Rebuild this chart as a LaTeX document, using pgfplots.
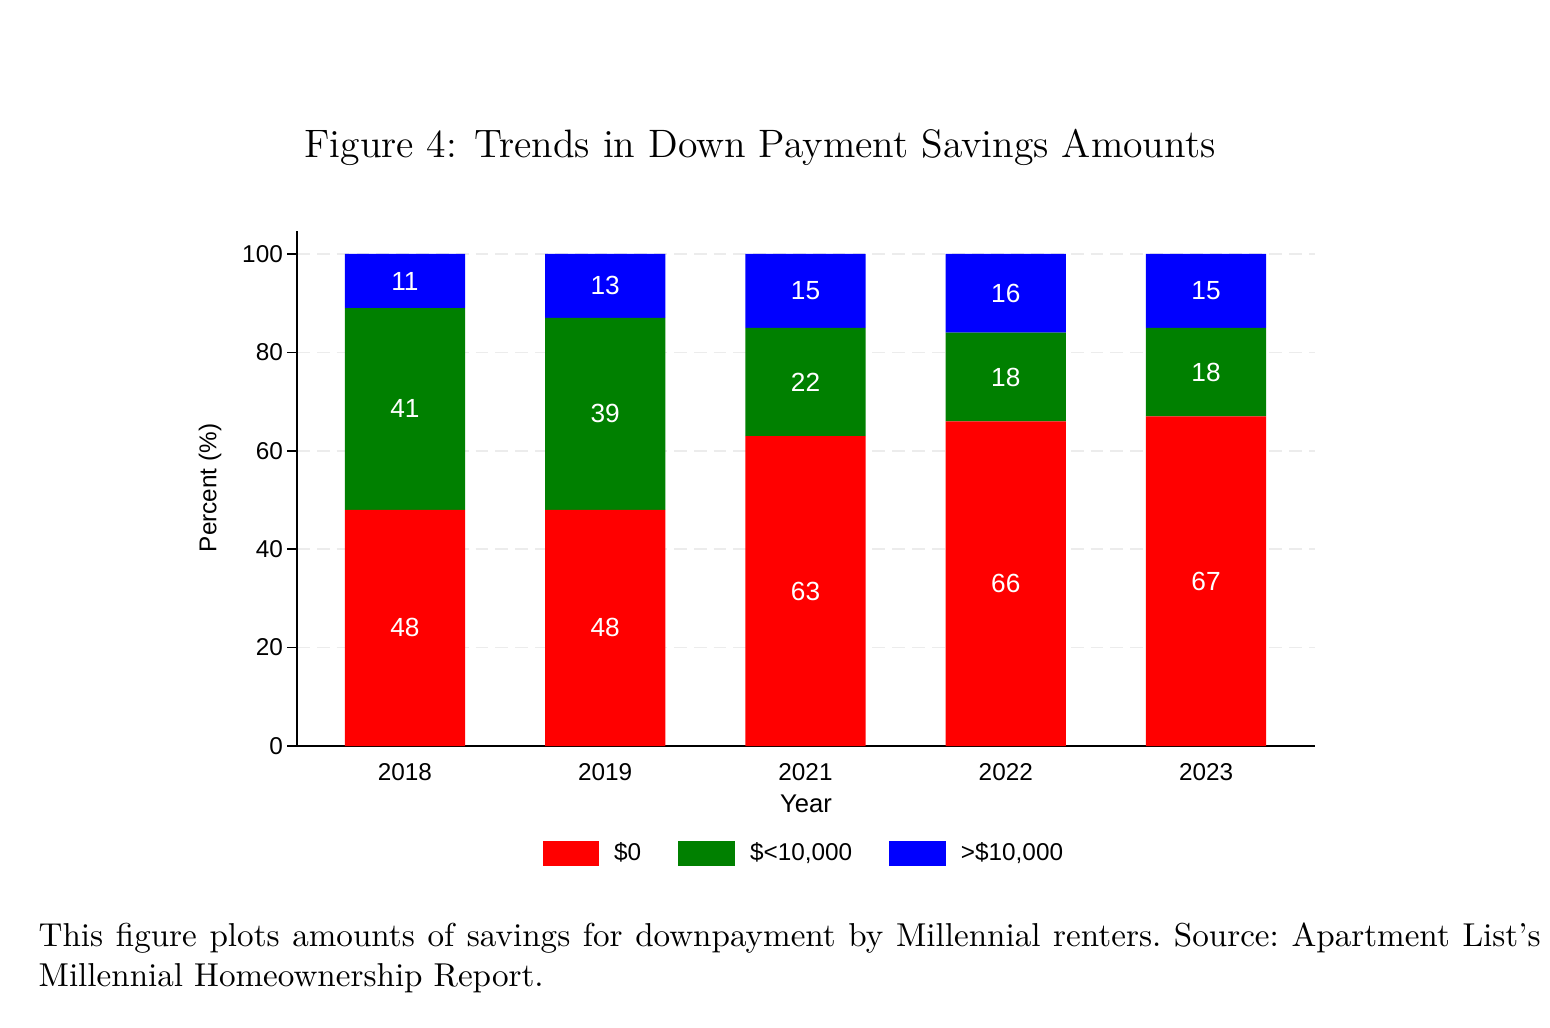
\documentclass[border=0pt]{standalone}
\usepackage{fontspec}
\usepackage{pgfplots}
\pgfplotsset{compat=1.18}
\usepackage{pgfplotstable}
\newfontfamily\arial{Liberation Sans}
\definecolor{sred}{RGB}{255,0,0}
\definecolor{sgreen}{RGB}{0,128,0}
\definecolor{sblue}{RGB}{0,0,255}
\definecolor{gridgray}{RGB}{236,236,236}

\pgfplotstableread{
x zero under over
0 48 41 11
1 48 39 13
2 63 22 15
3 66 18 16
4 67 18 15
}\savings
\pgfplotstablecreatecol[create col/expr={\thisrow{zero}/2}]{mA}\savings
\pgfplotstablecreatecol[create col/expr={\thisrow{zero}+\thisrow{under}/2}]{mB}\savings
\pgfplotstablecreatecol[create col/expr={\thisrow{zero}+\thisrow{under}+\thisrow{over}/2}]{mC}\savings

\begin{document}
\begin{tikzpicture}
\useasboundingbox (0,0) rectangle (484.375pt,-321.25pt);
\node[anchor=base, inner sep=0pt, font=\fontsize{12.4}{15}\selectfont] at (237.5pt,-49.375pt) {Figure 4: Trends in Down Payment Savings Amounts};

\begin{axis}[
  at={(92.8125pt,-233.125pt)}, anchor=south west,
  scale only axis, width=318.125pt, height=160.9375pt,
  ybar stacked, bar width=0.6,
  xmin=-0.539, xmax=4.544, ymin=0, ymax=104.67,
  axis x line*=bottom, axis y line*=left,
  axis line style={black, line width=0.45pt, -},
  xtick={0,1,2,3,4}, xticklabels={2018,2019,2021,2022,2023},
  x tick style={draw=none},
  ytick={0,20,40,60,80,100},
  tick align=outside, major tick length=3.1pt,
  y tick style={black, line width=0.45pt},
  ymajorgrids, major grid style={gridgray, dash pattern=on 4pt off 2.2pt, line width=0.5pt},
  /pgf/number format/assume math mode=true,
  ticklabel style={font=\arial\fontsize{7.6}{9}\selectfont},
  xticklabel style={yshift=1.2pt},
  yticklabel style={xshift=2.2pt},
  xlabel={Year},
  xlabel style={font=\arial\fontsize{8}{9.6}\selectfont, at={(axis description cs:0.5,-0.1126)}, anchor=center},
  ylabel={Percent (\%)},
  ylabel style={font=\arial\fontsize{7.6}{9}\selectfont, at={(axis description cs:-0.0855,0.501)}, anchor=center},
  legend columns=3,
  legend style={at={(axis description cs:0.5000,-0.2095)}, anchor=center, draw=none, fill=none,
    inner sep=0pt, outer sep=0pt, column sep=2.6pt,
    /tikz/every even column/.append style={column sep=9.6pt},
    font=\arial\fontsize{7.6}{9}\selectfont, cells={anchor=west, inner sep=0pt}},
  legend image code/.code={\fill[#1] (0pt,-3.9pt) rectangle (17.8pt,3.9pt);},
]
\addplot[fill=sred, draw=none] table[x=x, y=zero] {\savings};
\addlegendentry{\$0}
\addplot[fill=sgreen, draw=none] table[x=x, y=under] {\savings};
\addlegendentry{\$<10,000}
\addplot[fill=sblue, draw=none] table[x=x, y=over] {\savings};
\addlegendentry{>\$10,000}
\end{axis}

\begin{axis}[
  at={(92.8125pt,-233.125pt)}, anchor=south west,
  scale only axis, width=318.125pt, height=160.9375pt,
  xmin=-0.539, xmax=4.544, ymin=0, ymax=104.67,
  hide axis,
  /pgf/number format/assume math mode=true,
  nodes near coords, point meta=explicit,
  every node near coord/.append style={anchor=center, text=white, inner sep=0pt, font=\arial\fontsize{8.2}{9.6}\selectfont},
]
\addplot[draw=none, mark=none] table[x=x, y=mA, meta=zero] {\savings};
\addplot[draw=none, mark=none] table[x=x, y=mB, meta=under] {\savings};
\addplot[draw=none, mark=none] table[x=x, y=mC, meta=over] {\savings};
\end{axis}

\node[anchor=base west, inner sep=0pt, font=\fontsize{10.35}{12.3}\selectfont] at (11.875pt,-295.78pt) {\frenchspacing\makebox[469.375pt][s]{This figure plots amounts of savings for downpayment by Millennial renters. Source: Apartment List's}};
\node[anchor=base west, inner sep=0pt, font=\fontsize{10.35}{12.3}\selectfont] at (11.875pt,-308.125pt) {\frenchspacing Millennial Homeownership Report.};
\end{tikzpicture}
\end{document}
